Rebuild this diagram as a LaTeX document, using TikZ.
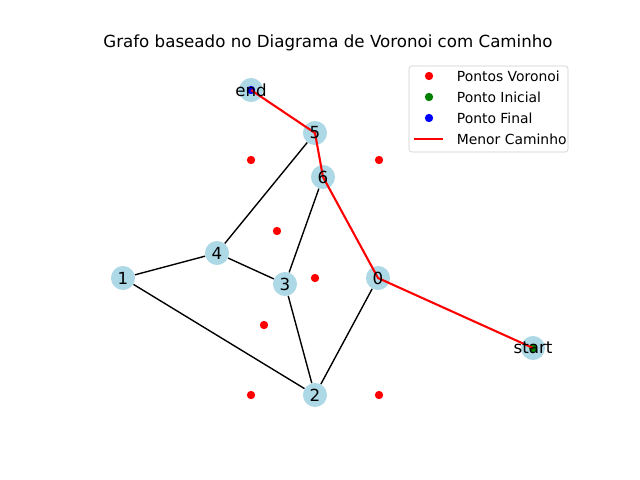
\documentclass[tikz,border=0pt]{standalone}
\usepackage{fontspec}
\setmainfont{DejaVu Sans}
\usetikzlibrary{backgrounds}
\definecolor{lightblue}{HTML}{ADD8E6}
\definecolor{mplgreen}{HTML}{008000}
\definecolor{legendedge}{gray}{0.8}

\tikzset{
  vertex/.style={circle, fill=lightblue, minimum size=17.3pt, inner sep=0pt},
  vlabel/.style={font=\fontsize{12}{14}\selectfont, inner sep=0pt},
  dot/.style={circle, minimum size=6pt, inner sep=0pt},
  edge/.style={black, line width=1pt},
  bestpath/.style={red, line width=1.5pt, line join=round},
}

\begin{document}
\begin{tikzpicture}[x=0.72pt, y=-0.72pt]
    \useasboundingbox (0,0) rectangle (640,480);
    % Title
    \node[vlabel] (title) at (328,43) {Grafo baseado no Diagrama de Voronoi com Caminho};
    % Voronoi points
    \foreach \px/\py [count=\i] in {251/160, 379/160, 277/231, 315/278, 264/325, 251/395, 379/395}
        \node[dot, fill=red] (p\i) at (\px,\py) {};
    % Graph vertices
    \node[vertex] (v0) at (378,278) {};
    \node[vertex] (v1) at (123,278) {};
    \node[vertex] (v2) at (315,395) {};
    \node[vertex] (v3) at (285,284) {};
    \node[vertex] (v4) at (217,253) {};
    \node[vertex] (v5) at (315,133) {};
    \node[vertex] (v6) at (323,177) {};
    \node[vertex] (vs) at (533,348) {};
    \node[vertex] (ve) at (251,90) {};
    % Edges
    \begin{scope}[on background layer]
        \draw[edge] (v5) -- (v4);
        \draw[edge] (v6) -- (v3);
        \draw[edge] (v4) -- (v1);
        \draw[edge] (v4) -- (v3);
        \draw[edge] (v1) -- (v2);
        \draw[edge] (v3) -- (v2);
        \draw[edge] (v2) -- (v0);
    \end{scope}
    % Start and end points
    \node[dot, fill=mplgreen] (ps) at (vs) {};
    \node[dot, fill=blue] (pe) at (ve) {};
    % Shortest path
    \draw[bestpath] (ve.center) -- (v5.center) -- (v6.center) -- (v0.center) -- (vs.center);
    % Vertex labels
    \node[vlabel] (t0) at (v0) {0};
    \node[vlabel] (t1) at (v1) {1};
    \node[vlabel] (t2) at (v2) {2};
    \node[vlabel] (t3) at (v3) {3};
    \node[vlabel] (t4) at (v4) {4};
    \node[vlabel] (t5) at (v5) {5};
    \node[vlabel] (t6) at (v6) {6};
    \node[vlabel] (ts) at (vs) {start};
    \node[vlabel] (te) at (ve) {end};
    % Legend
    \draw[legendedge, fill=white, rounded corners=2pt] (409,66) rectangle (568,152);
    \node[dot, fill=red] (lg1) at (429,76) {};
    \node[dot, fill=mplgreen] (lg2) at (429,97) {};
    \node[dot, fill=blue] (lg3) at (429,118) {};
    \draw[bestpath] (414,139) -- (443,139);
    \node[anchor=west, font=\fontsize{10}{12}\selectfont] at (452,76) {Pontos Voronoi};
    \node[anchor=west, font=\fontsize{10}{12}\selectfont] at (452,97) {Ponto Inicial};
    \node[anchor=west, font=\fontsize{10}{12}\selectfont] at (452,118) {Ponto Final};
    \node[anchor=west, font=\fontsize{10}{12}\selectfont] at (452,139) {Menor Caminho};
\end{tikzpicture}
\end{document}
